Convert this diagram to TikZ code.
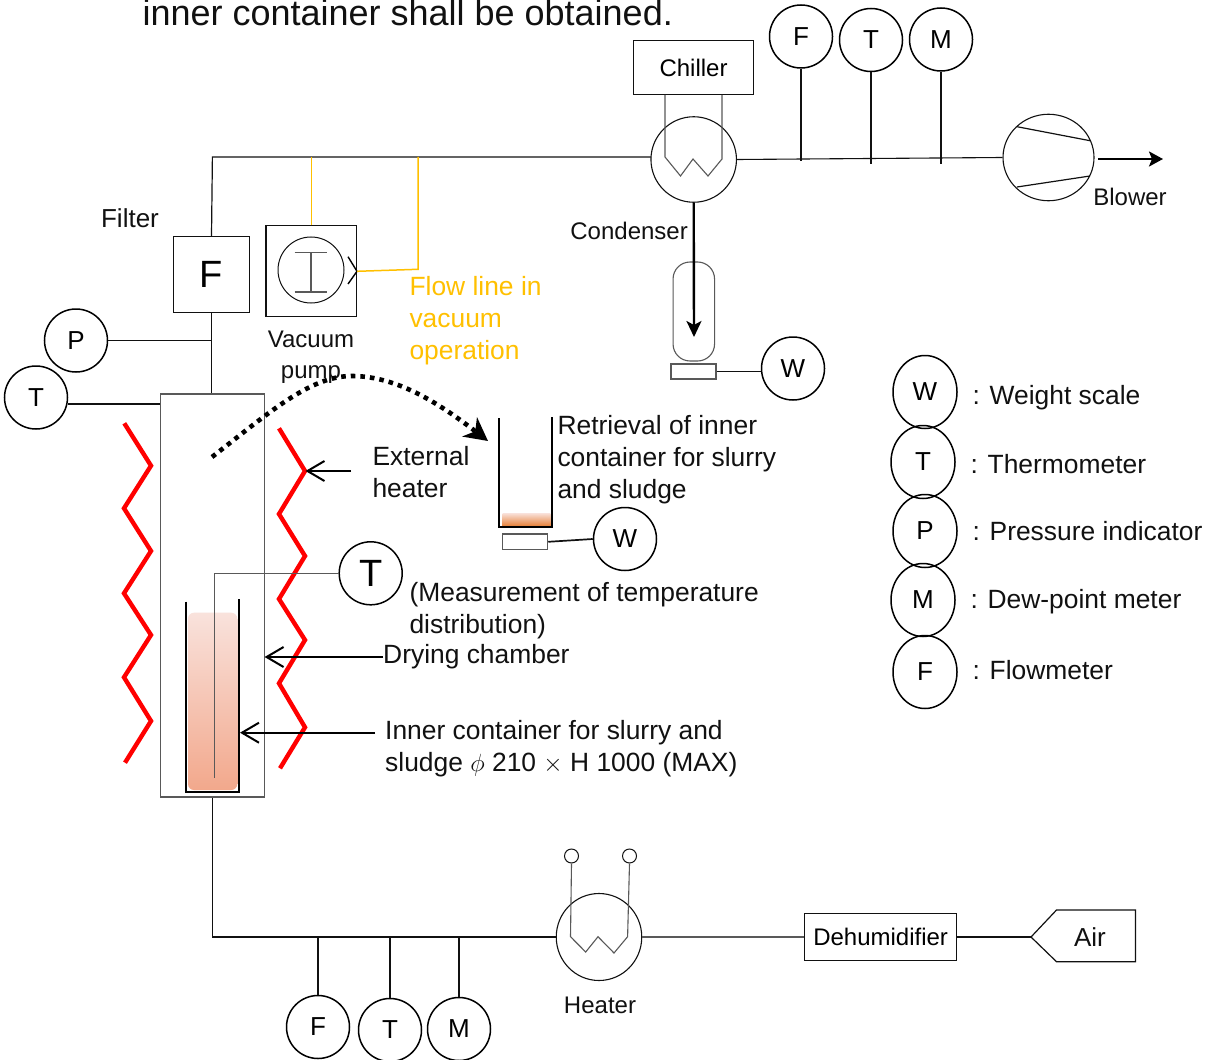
\documentclass[tikz,border=0pt]{standalone}
\usepackage{fontspec}
\setmainfont{Liberation Sans}
\usetikzlibrary{arrows.meta,calc,positioning,shapes.geometric}
\definecolor{dryRed}{HTML}{FF0000}
\definecolor{dryAmber}{HTML}{FFC000}
\definecolor{dryGrey}{HTML}{595959}
\definecolor{dryInk}{HTML}{111111}
\definecolor{slurryTop}{HTML}{F9E2DC}
\definecolor{slurryLow}{HTML}{F2A88C}
\definecolor{slurryDark}{HTML}{E67C30}

\begin{document}
\begin{tikzpicture}[x=1pt,y=-1pt,>=Latex,line cap=butt,line join=miter]
\path[use as bounding box,fill=white] (0,0) rectangle (1206,1059);
\tikzset{wire/.style={draw=dryInk,line width=1.2pt},thinwire/.style={draw=dryGrey,line width=1.1pt},stem/.style={draw=dryInk,line width=1.7pt},coil/.style={draw=dryRed,line width=4.4pt},callout/.style={draw=black,line width=2pt,-{Straight Barb[length=17pt,width=20pt,line width=2pt]}},vessel/.style={draw=black,line width=2pt},gauge/.style={draw=black,circle,line width=1.5pt,minimum size=63pt,inner sep=0pt,font=\fontsize{26}{30}\selectfont},legend/.style={draw=black,ellipse,line width=1.5pt,minimum width=64pt,minimum height=73pt,inner sep=0pt,font=\fontsize{26}{30}\selectfont},box/.style={draw=dryInk,line width=1.1pt,inner sep=0pt},tag/.style={font=\fontsize{24}{30}\selectfont,text=dryInk},note/.style={anchor=west,align=left,font=\fontsize{26.4}{32}\selectfont,text=dryInk},port/.style={draw=dryInk,circle,line width=1pt,minimum size=14pt,inner sep=0pt}}
\node[anchor=base west,font=\fontsize{36}{40}\selectfont,text=dryInk] (titleLine) at (139,26) {inner container shall be obtained.};

\coordinate (topCorner) at (212.4,157);
\coordinate (condIn) at (651,157);
\coordinate (lowCorner) at (212.4,937);
\node[box,draw=dryInk,minimum width=75.5pt,minimum height=75.5pt,font=\fontsize{38}{40}\selectfont] (filter) at (211.5,274.5) {F};
\node[tag,font=\fontsize{26}{30}\selectfont] (filterTag) at (130,218) {Filter};
\node[box,draw=dryGrey,minimum width=103.3pt,minimum height=403pt] (chamber) at (212.4,595.5) {};
\draw[wire] (filter.north) -- (topCorner) -- (condIn);
\draw[wire] (filter.south) -- (filter.south |- chamber.north);
\draw[wire] (chamber.south) -- (lowCorner);

% vacuum pump and its by-pass
\node[box,minimum width=90.5pt,minimum height=90.7pt] (pump) at (311.2,271.3) {};
\node[draw=dryInk,circle,line width=1pt,minimum size=66pt,inner sep=0pt] (pumpRotor) at (311,270) {};
\draw[thinwire] (294.6,252.7) -- (327,252.7) (311,252.7) -- (311,292) (294.6,292) -- (327,292);
\draw[draw=black,line width=1.4pt] (348,256.7) -- (pump.east) -- (348,284);
\draw[draw=dryAmber,line width=1pt] (pump.north) -- (pump.north |- topCorner);
\coordinate (flowTop) at (418,157);
\coordinate (flowBend) at (418,269.3);
\draw[draw=dryAmber,line width=1.5pt] (flowTop) -- (flowBend) -- (pump.east);
\node[tag] (pumpTag) at (311,357) {\begin{tabular}{@{}c@{}}Vacuum\\[1pt]pump\end{tabular}};
\node[note,text=dryAmber] (flowNote) at (406,321) {Flow line in\\vacuum\\operation};

% indicators on the drying chamber
\node[gauge] (gaugeP) at (76,340.5) {P};
\node[gauge] (gaugeTa) at (36,397.5) {T};
\draw[stem] (gaugeP.east) -- (gaugeP.east -| filter.center);
\draw[stem] (gaugeTa.-12) -- (gaugeTa.-12 -| chamber.west);

% heaters
\draw[coil] (124.3,423.3) -- (151,465.7) -- (124,508.3) -- (151,551) -- (124,593.3) -- (151,635) -- (124,677.3) -- (151,721) -- (125,762.7);
\draw[coil] (279,428.3) -- (305,471) -- (279,514) -- (305,556) -- (279,599) -- (305,640) -- (279,683.3) -- (305,727.3) -- (280,768.3);
\coordinate (heaterTip) at (305.5,471);
\coordinate (heaterFoot) at (351,471);
\draw[callout] (heaterFoot) -- (heaterTip);
\node[note] (heaterNote) at (369,472) {External\\heater};

% inner container
\shade[rounded corners=6pt,top color=slurryTop,bottom color=slurryLow] (188,612.7) rectangle (237.3,790);
\draw[vessel] (186,601.7) -- (186,791.7) -- (238.7,791.7) -- (238.7,598.7);
\node[gauge,font=\fontsize{38}{40}\selectfont] (gaugeTb) at (370.7,573.3) {T};
\coordinate (probeTurn) at (214.7,573.3);
\coordinate (probeEnd) at (214.7,777.7);
\draw[thinwire] (gaugeTb.west) -- (probeTurn) -- (probeEnd);
\node[note] (probeNote) at (406,611) {(Measurement of temperature\\distribution)};
\node[note,inner sep=0pt] (chamberNote) at (383,657) {Drying chamber};
\draw[callout] (chamberNote.west) -- (chamber.east |- chamberNote.west);
\node[note,inner sep=0pt] (innerNote) at (385,748.5) {Inner container for slurry and\\sludge $\phi$ 210 $\times$ H 1000 (MAX)};
\coordinate (innerFoot) at (375,732.7);
\coordinate (innerTip) at (240,732.7);
\draw[callout] (innerFoot) -- (innerTip);

% retrieval
\draw[line width=4.6pt,dash pattern=on 4.6pt off 5pt,-{Stealth[length=23pt,width=24pt,inset=7pt]}] (212,457) .. controls (270,412) and (310,376) .. (352,376) .. controls (400,376) and (445,408) .. (488,441);
\shade[top color=slurryTop,bottom color=slurryDark] (502.7,513) rectangle (550.3,526.7);
\draw[vessel] (499.3,418) -- (499.3,527.3) -- (552.3,527.3) -- (552.3,417);
\node[box,draw=dryGrey,minimum width=45pt,minimum height=15.7pt] (scaleB) at (525.2,541.8) {};
\node[gauge] (gaugeWb) at (625,539) {W};
\draw[stem] (scaleB.east) -- (gaugeWb.west);
\node[note] (retrieveNote) at (554,460) {Retrieval of inner\\container for slurry\\and sludge};

% condenser line
\node[box,minimum width=120pt,minimum height=54pt,font=\fontsize{24}{30}\selectfont] (chiller) at (693.5,67.5) {Chiller};
\node[draw=dryInk,ellipse,line width=1.1pt,minimum width=85.5pt,minimum height=85.5pt,inner sep=0pt] (condenser) at (693.7,159.5) {};
\draw[thinwire] (665,95) -- (665,157) -- (680.5,176) -- (693,159) -- (708,176) -- (722,159) -- (722,95);
\node[tag,anchor=east,inner sep=0pt] (condenserTag) at (688,231) {Condenser};
\node[draw=dryGrey,rounded corners=17pt,line width=1.1pt,minimum width=41.5pt,minimum height=99pt,inner sep=0pt] (receiver) at (693.8,311.5) {};
\node[box,draw=dryGrey,minimum width=45pt,minimum height=15pt] (scaleA) at (693.5,371.5) {};
\node[gauge] (gaugeWa) at (793,368.5) {W};
\draw[stem] (scaleA.east) -- (scaleA.east -| gaugeWa.west);
\coordinate (dropEnd) at (694,337);
\draw[line width=2.4pt,-{Stealth[length=16pt,width=15pt,inset=4pt]}] (condenser.south) -- (dropEnd);
\node[draw=dryInk,ellipse,line width=1.1pt,minimum width=91pt,minimum height=86.5pt,inner sep=0pt] (blower) at (1048.5,157.5) {};
\draw[thinwire,draw=dryInk] (condenser.east) -- (blower.west);
\draw[wire] (1017,126.7) -- (1090,140.7) (1017,187) -- (1090,176);
\coordinate (blowerOut) at (1163,159);
\draw[line width=2.4pt,-{Stealth[length=14pt,width=15pt,inset=3pt]}] (1098,159) -- (blowerOut);
\node[tag] (blowerTag) at (1130,197) {Blower};
\node[gauge] (gaugeFa) at (801,36.5) {F};
\node[gauge] (gaugeTc) at (871,40) {T};
\node[gauge] (gaugeMa) at (941,39.5) {M};
\foreach \g in {gaugeFa,gaugeTc,gaugeMa}
  \draw[stem] (\g.south) -- ++(0,92);

% inlet line
\node[draw=dryInk,ellipse,line width=1.1pt,minimum width=85.5pt,minimum height=87pt,inner sep=0pt] (airheater) at (599,937) {};
\draw[thinwire,draw=dryInk] (lowCorner) -- (airheater.west);
\node[port] (portL) at (571.5,856) {};
\node[port] (portR) at (629.5,856) {};
\draw[thinwire] (portL.south) -- (570.5,936.7) -- (585.7,952) -- (598,936.7) -- (614,953) -- (627.6,936.7) -- (portR.south);
\node[tag] (airheaterTag) at (600,1005) {Heater};
\node[box,minimum width=151.8pt,minimum height=47.7pt,font=\fontsize{24}{30}\selectfont] (dehumid) at (880.6,937) {Dehumidifier};
\draw[thinwire] (airheater.east) -- (dehumid.west);
\node[inner sep=0pt,font=\fontsize{26}{30}\selectfont,text=dryInk] (airTag) at (1090,937) {Air};
\coordinate (airTip) at (1031,937);
\draw[wire] (airTip) -- (1056.5,910) -- (1135.5,910) -- (1135.5,961.7) -- (1056.5,961.7) -- cycle;
\draw[wire] (dehumid.east) -- (airTip);
\node[gauge] (gaugeFb) at (318,1027) {F};
\node[gauge] (gaugeTd) at (390,1030) {T};
\node[gauge] (gaugeMb) at (459,1029) {M};
\foreach \g in {gaugeFb,gaugeTd,gaugeMb}
  \draw[stem] (\g.north) -- (\g.north |- lowCorner);

% key
\node[legend] (keyW) at (925,392) {W};
\node[legend] (keyT) at (923,462) {T};
\node[legend] (keyP) at (925,531) {P};
\node[legend] (keyM) at (923,600) {M};
\node[legend] (keyF) at (925,672) {F};
\node[note] (keyWtext) at (969,398) {: Weight scale};
\node[note] (keyTtext) at (967,464) {: Thermometer};
\node[note] (keyPtext) at (969,531) {: Pressure indicator};
\node[note] (keyMtext) at (967,602) {: Dew-point meter};
\node[note] (keyFtext) at (969,670) {: Flowmeter};
\end{tikzpicture}
\end{document}
